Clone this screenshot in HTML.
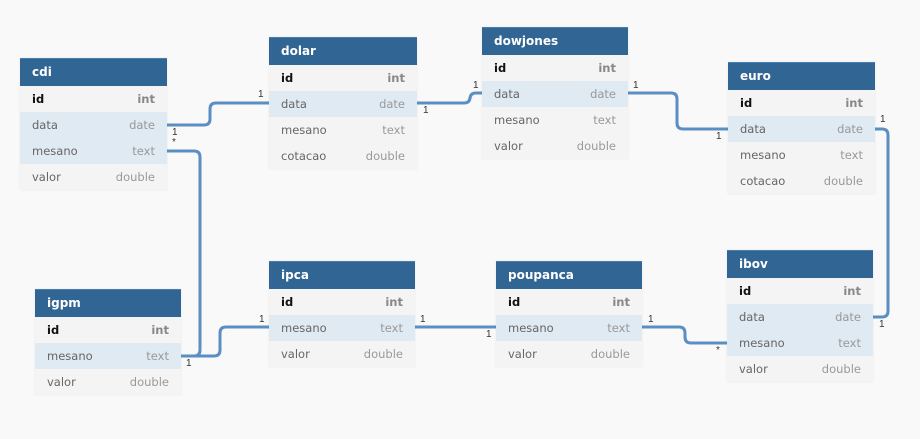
<!DOCTYPE html>
<html><head><style>
body{margin:0;width:920px;height:439px;background:#f9f9f9;font-family:"DejaVu Sans","Liberation Sans",sans-serif;position:relative;overflow:hidden}
.t{position:absolute;width:147px;box-shadow:0 0 2px rgba(0,0,0,.08)}
.h{background:#316594;color:#fff;font-weight:bold;font-size:12px;height:27px;line-height:27px;padding-left:12px;border-top:1px solid #4a7eac}
.r{height:26px;line-height:26px;font-size:11.5px;background:#f4f4f4;color:#666;padding:0 12px;display:flex;justify-content:space-between}
.r span:last-child{color:#999}
.r.hl{background:#dfeaf3}
.r.pk span:first-child{color:#111;font-weight:bold}
.r.pk span:last-child{color:#888;font-weight:bold}
svg{position:absolute;left:0;top:0}
.l{position:absolute;font-size:10px;color:#333;font-family:"Liberation Sans",sans-serif}
</style></head><body>
<svg width="920" height="439"><g fill="none" stroke="#5b8fc4" stroke-width="3">
<path d="M167 125 H204 Q210 125 210 119 V109 Q210 103 216 103 H269"/>
<path d="M167 151 H194 Q200 151 200 157 V350 Q200 356 194 356 H181"/>
<path d="M417 103 H464 Q470 103 470 97 V99 Q470 93 476 93 H482"/>
<path d="M628 93 H671 Q677 93 677 99 V123 Q677 129 683 129 H728"/>
<path d="M875 129 H882 Q888 129 888 135 V311 Q888 317 882 317 H873"/>
<path d="M181 356 H214 Q220 356 220 350 V333 Q220 327 226 327 H269"/>
<path d="M415 327 H496"/>
<path d="M642 327 H679 Q685 327 685 333 V337 Q685 343 691 343 H727"/>
</g></svg>
<div class="t" style="left:20px;top:58px"><div class="h">cdi</div><div class="r pk"><span>id</span><span>int</span></div><div class="r hl"><span>data</span><span>date</span></div><div class="r hl"><span>mesano</span><span>text</span></div><div class="r"><span>valor</span><span>double</span></div></div>
<div class="t" style="left:269px;top:37px;width:148px"><div class="h">dolar</div><div class="r pk"><span>id</span><span>int</span></div><div class="r hl"><span>data</span><span>date</span></div><div class="r"><span>mesano</span><span>text</span></div><div class="r"><span>cotacao</span><span>double</span></div></div>
<div class="t" style="left:482px;top:27px;width:146px"><div class="h">dowjones</div><div class="r pk"><span>id</span><span>int</span></div><div class="r hl"><span>data</span><span>date</span></div><div class="r"><span>mesano</span><span>text</span></div><div class="r"><span>valor</span><span>double</span></div></div>
<div class="t" style="left:728px;top:62px"><div class="h">euro</div><div class="r pk"><span>id</span><span>int</span></div><div class="r hl"><span>data</span><span>date</span></div><div class="r"><span>mesano</span><span>text</span></div><div class="r"><span>cotacao</span><span>double</span></div></div>
<div class="t" style="left:35px;top:289px;width:146px"><div class="h">igpm</div><div class="r pk"><span>id</span><span>int</span></div><div class="r hl"><span>mesano</span><span>text</span></div><div class="r"><span>valor</span><span>double</span></div></div>
<div class="t" style="left:269px;top:261px;width:146px"><div class="h">ipca</div><div class="r pk"><span>id</span><span>int</span></div><div class="r hl"><span>mesano</span><span>text</span></div><div class="r"><span>valor</span><span>double</span></div></div>
<div class="t" style="left:496px;top:261px;width:146px"><div class="h">poupanca</div><div class="r pk"><span>id</span><span>int</span></div><div class="r hl"><span>mesano</span><span>text</span></div><div class="r"><span>valor</span><span>double</span></div></div>
<div class="t" style="left:727px;top:250px;width:146px"><div class="h">ibov</div><div class="r pk"><span>id</span><span>int</span></div><div class="r hl"><span>data</span><span>date</span></div><div class="r hl"><span>mesano</span><span>text</span></div><div class="r"><span>valor</span><span>double</span></div></div>
<div class="l" style="left:172px;top:127px">1</div>
<div class="l" style="left:172px;top:137px">*</div>
<div class="l" style="left:258px;top:89px">1</div>
<div class="l" style="left:186px;top:358px">1</div>
<div class="l" style="left:423px;top:105px">1</div>
<div class="l" style="left:473px;top:80px">1</div>
<div class="l" style="left:633px;top:80px">1</div>
<div class="l" style="left:716px;top:131px">1</div>
<div class="l" style="left:880px;top:114px">1</div>
<div class="l" style="left:879px;top:319px">1</div>
<div class="l" style="left:259px;top:314px">1</div>
<div class="l" style="left:420px;top:314px">1</div>
<div class="l" style="left:486px;top:329px">1</div>
<div class="l" style="left:648px;top:314px">1</div>
<div class="l" style="left:716px;top:345px">*</div>
</body></html>
